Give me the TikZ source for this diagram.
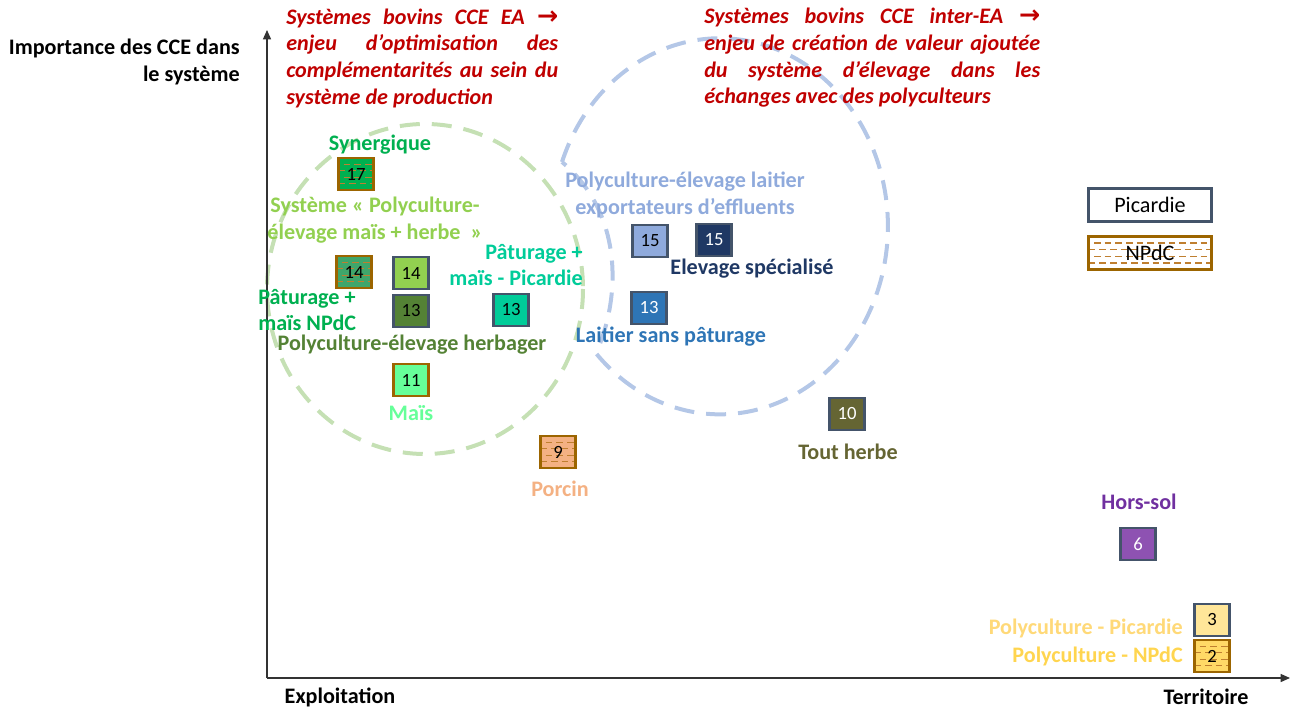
\documentclass[tikz,border=0pt]{standalone}
\usepackage{fontspec}
\setmainfont{Carlito}
\newfontfamily\arrowfont{DejaVu Sans}
\usetikzlibrary{arrows.meta,positioning,calc}

\definecolor{redtxt}{HTML}{C00000}
\definecolor{slate}{HTML}{44546A}
\definecolor{brownb}{HTML}{9C6500}
\definecolor{hatch}{HTML}{BF7F30}
\definecolor{vsyn}{HTML}{00B050}
\definecolor{vmix}{HTML}{92D050}
\definecolor{vmixn}{HTML}{3FA66B}
\definecolor{vherb}{HTML}{548235}
\definecolor{vpic}{HTML}{00CC99}
\definecolor{vmais}{HTML}{66FF99}
\definecolor{vporc}{HTML}{F4B183}
\definecolor{vlait}{HTML}{8FAADC}
\definecolor{velev}{HTML}{1F3864}
\definecolor{vsans}{HTML}{2E75B6}
\definecolor{vtout}{HTML}{656533}
\definecolor{vhors}{HTML}{7030A0}
\definecolor{vhorsbox}{HTML}{8E52B2}
\definecolor{vpolyp}{HTML}{FFE699}
\definecolor{vpolyptxt}{HTML}{FFD978}
\definecolor{vpolyn}{HTML}{FFD966}
\definecolor{vpolyntxt}{HTML}{FFD54F}
\definecolor{circg}{HTML}{C5E0B4}
\definecolor{circb}{HTML}{B4C7E7}

\begin{document}
\begin{tikzpicture}[x=0.75pt, y=-0.75pt,
    font=\fontsize{16.6}{20}\selectfont,
    lbl/.style={font=\fontsize{16.6}{20}\selectfont\bfseries, inner sep=0pt, align=center},
    enjeu/.style={lbl, font=\fontsize{16.6}{20}\selectfont\bfseries\itshape, text=redtxt, anchor=west, align=justify},
    val/.style={minimum width=26.5pt, minimum height=24pt, inner sep=0pt,
      line width=2pt, font=\fontsize{14}{16}\selectfont},
    pic/.style={val, draw=slate},
    npdc/.style={val, draw=brownb},
    hatched/.style={path picture={
      \foreach \k/\ph in {1/0pt,2/4pt,3/0pt,4/4pt}
        \draw[hatch, line width=0.9pt, dash pattern=on 5pt off 3pt, dash phase=\ph]
          ($(path picture bounding box.south west)!\k/5!(path picture bounding box.north west)$) --
          ($(path picture bounding box.south east)!\k/5!(path picture bounding box.north east)$);
    }},
    zone/.style={line width=3pt, dash pattern=on 15pt off 9pt},
    axis/.style={black!80, line width=1pt, -{Triangle[length=7pt,width=6pt]}}]
  \useasboundingbox (0,0) rectangle (1293,709);

  % zones
  \draw[zone, circg] (425,289) ellipse [x radius=158, y radius=165];
  \draw[zone, circb] (562,162) arc[start angle=200, end angle=497.5, x radius=168, y radius=188]
    .. controls (620,300) and (625,215) .. (562,162);

  % axes
  \coordinate (orig) at (267,678);
  \coordinate (xend) at (1290,678);
  \coordinate (yend) at (267,30);
  \draw[axis] (orig) -- (yend);
  \draw[axis] (orig) -- (xend);
  \node[lbl, anchor=east, align=right] (ylab) at (240,62) {Importance des CCE dans\\le système};
  \node[lbl] (xlab1) at (340,697) {Exploitation};
  \node[lbl] (xlab2) at (1206,697) {Territoire};

  % enjeux
  \node[enjeu, text width=204pt] (enjeuEA) at (286,58)
    {Systèmes bovins CCE EA {\arrowfont\fontsize{19}{20}\selectfont →}\linebreak enjeu d’optimisation des\linebreak
     complémentarités au sein du\linebreak système de production};
  \node[enjeu, text width=252pt] (enjeuinter) at (704,58)
    {Systèmes bovins CCE inter-EA {\arrowfont\fontsize{19}{20}\selectfont →}\linebreak enjeu de création de valeur ajoutée\linebreak
     du système d’élevage dans les\linebreak échanges avec des polyculteurs};

  % systemes
  \node[npdc, hatched, fill=vsyn] (b17) at (356,174) {17};
  \node[npdc, hatched, fill=vmixn] (b14n) at (354,272) {14};
  \node[pic, fill=vmix] (b14p) at (411,273) {14};
  \node[pic, fill=vherb] (b13h) at (411,311) {13};
  \node[pic, fill=vpic] (b13p) at (511,310) {13};
  \node[npdc, fill=vmais] (b11) at (411,380) {11};
  \node[npdc, hatched, fill=vporc] (b9) at (558,452) {9};
  \node[pic, fill=vlait] (b15l) at (650,241) {15};
  \node[pic, fill=velev, text=white] (b15e) at (714,240) {15};
  \node[pic, fill=vsans, text=white] (b13s) at (649,308) {13};
  \node[pic, fill=vtout, text=white] (b10) at (847,414) {10};
  \node[pic, fill=vhorsbox, text=white] (b6) at (1138,544) {6};
  \node[pic, fill=vpolyp] (b3) at (1212,620) {3};
  \node[npdc, hatched, fill=vpolyn] (b2) at (1212,656) {2};

  \node[lbl, text=vsyn] (synl) at (380,145) {Synergique};
  \node[lbl, text=vmix] (mixl) at (375,220) {Système « Polyculture-\\élevage maïs + herbe~~»};
  \node[lbl, text=vpic, anchor=east, align=right] (picl) at (583,265) {Pâturage +\\maïs - Picardie};
  \node[lbl, text=vsyn, anchor=west, align=left] (npl) at (258,310) {Pâturage +\\maïs NPdC};
  \node[lbl, text=vherb] (herbl) at (412,345) {Polyculture-élevage herbager};
  \node[lbl, text=vmais, below=6pt of b11] (maisl) {Maïs};
  \node[lbl, text=vlait] (laitl) at (685,195) {Polyculture-élevage laitier\\exportateurs d’effluents};
  \node[lbl, text=velev] (elevl) at (752,269) {Elevage spécialisé};
  \node[lbl, text=vsans] (sansl) at (671,337) {Laitier sans pâturage};
  \node[lbl, text=vtout] (toutl) at (848,452) {Tout herbe};
  \node[lbl, text=vporc] (porcl) at (560,489) {Porcin};
  \node[lbl, text=vhors] (horsl) at (1139,502) {Hors-sol};
  \node[lbl, text=vpolyptxt, anchor=east] (polypl) at (1183,628) {Polyculture - Picardie};
  \node[lbl, text=vpolyntxt, anchor=east] (polynl) at (1183,656) {Polyculture - NPdC};

  % legende
  \node[pic, fill=white, minimum width=92pt, minimum height=25pt,
    font=\fontsize{16.6}{20}\selectfont] (legpic) at (1150,205) {Picardie};
  \node[npdc, hatched, fill=white, minimum width=92pt, minimum height=25pt,
    font=\fontsize{16.6}{20}\selectfont] (legnpdc) at (1150,253) {NPdC};
\end{tikzpicture}
\end{document}
